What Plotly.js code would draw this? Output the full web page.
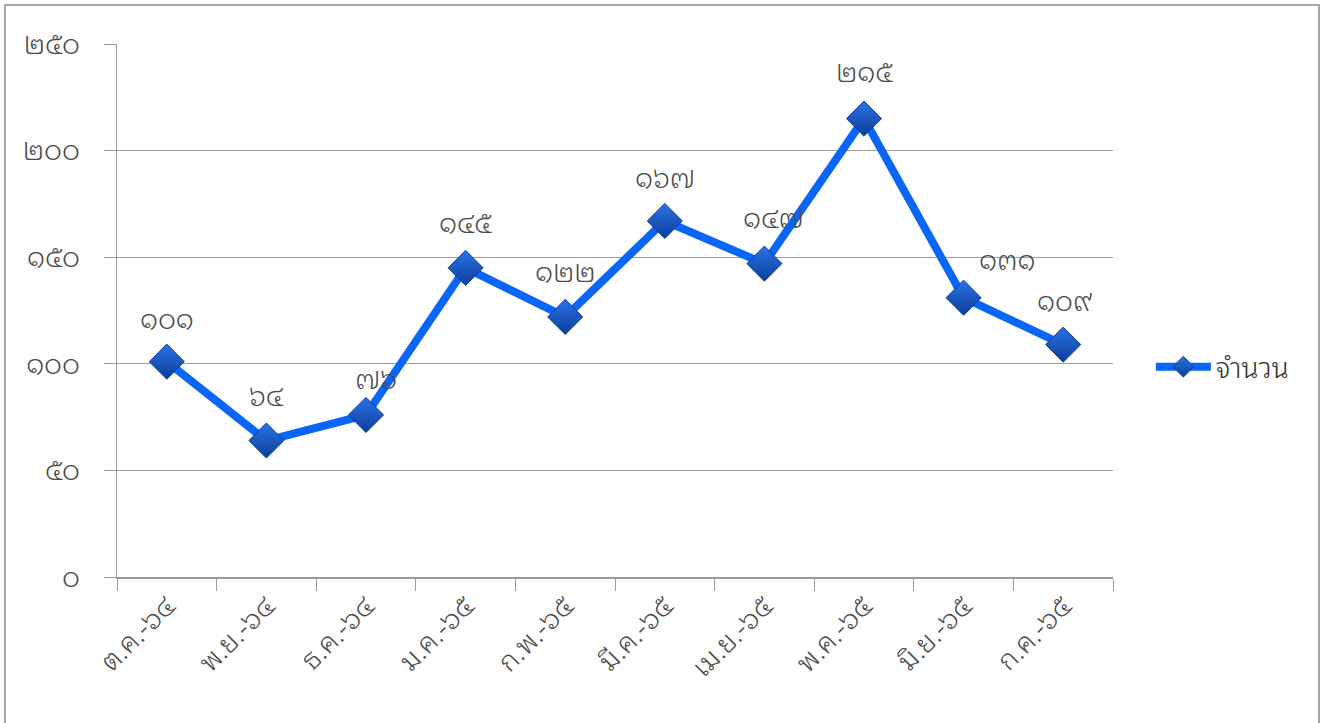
<!DOCTYPE html>
<html>
<head>
<meta charset="utf-8">
<script src="https://cdn.plot.ly/plotly-3.0.1.min.js"></script>
<style>
html,body{margin:0;padding:0;background:#fff;}
#frame{position:absolute;left:4px;top:4px;width:1316px;height:730px;border:2px solid #a6a6a6;box-sizing:border-box;}
#chart{position:absolute;left:0;top:0;width:1326px;height:723px;}
</style>
</head>
<body>
<div id="frame"></div>
<div id="chart"></div>
<script>
const categories = ["ต.ค.-๖๔","พ.ย.-๖๔","ธ.ค.-๖๔","ม.ค.-๖๕","ก.พ.-๖๕","มี.ค.-๖๕","เม.ย.-๖๕","พ.ค.-๖๕","มิ.ย.-๖๕","ก.ค.-๖๕"];
const values = [101, 64, 76, 145, 122, 167, 147, 215, 131, 109];
const seriesName = "จำนวน";
const yTickVals = [0, 50, 100, 150, 200, 250];

// label nudges (pixels) used by the original chart to avoid overlapping the line
const labelDx = [0, 0, 10, 0, 0, 0, 9, 0, 43, 2];
const labelDy = [45, 47, 38, 47, 47, 45, 48, 49, 40, 46];

function thaiDigits(n){
  const d = "๐๑๒๓๔๕๖๗๘๙";
  return String(n).replace(/[0-9]/g, c => d[+c]);
}

const fontFam = "'Noto Sans Thai Looped','Noto Sans Thai','Noto Sans','DejaVu Sans',sans-serif";
const txtCol = "#4a4a4a";

const trace = {
  x: categories,
  y: values,
  type: "scatter",
  mode: "lines+markers",
  name: seriesName,
  line: {color: "#0a66f8", width: 8},
  marker: {symbol: "diamond", size: 27, color: "#2a72e8",
           gradient: {type: "vertical", color: "#0c3f98"},
           line: {color: "#0b3f9a", width: 1}},
  hoverinfo: "x+y"
};

const annotations = categories.map((c, i) => ({
  x: c, y: values[i], xref: "x", yref: "y",
  text: thaiDigits(values[i]),
  showarrow: false, yshift: labelDy[i], xshift: labelDx[i],
  font: {family: fontFam, size: 28, color: txtCol, weight: 300}
}));

const layout = {
  width: 1326, height: 723,
  paper_bgcolor: "rgba(0,0,0,0)",
  plot_bgcolor: "rgba(0,0,0,0)",
  margin: {l: 117, r: 213, t: 44, b: 146},
  showlegend: true,
  legend: {x: 1.038, y: 0.394, xanchor: "left", yanchor: "middle",
           font: {family: fontFam, size: 28, color: "#333", weight: 300}, itemwidth: 55},
  xaxis: {
    type: "category",
    tickson: "boundaries",
    ticks: "outside", ticklen: 12, tickcolor: "#9a9a9a",
    showline: true, linecolor: "#9a9a9a", linewidth: 1.5,
    showgrid: false, zeroline: false,
    tickangle: -45,
    tickfont: {family: fontFam, size: 28, color: txtCol, weight: 300},
    range: [-0.5, 9.5]
  },
  yaxis: {
    range: [0, 250],
    tickvals: yTickVals,
    ticktext: yTickVals.map(thaiDigits),
    ticks: "outside", ticklen: 12, tickcolor: "#9a9a9a",
    showline: true, linecolor: "#9a9a9a", linewidth: 1.5,
    showgrid: true, gridcolor: "#a0a0a0", gridwidth: 1,
    zeroline: false,
    ticklabelstandoff: 18,
    tickfont: {family: fontFam, size: 28, color: txtCol, weight: 300}
  },
  annotations: annotations
};

Plotly.newPlot("chart", [trace], layout, {displayModeBar: false, staticPlot: true});
</script>
</body>
</html>
